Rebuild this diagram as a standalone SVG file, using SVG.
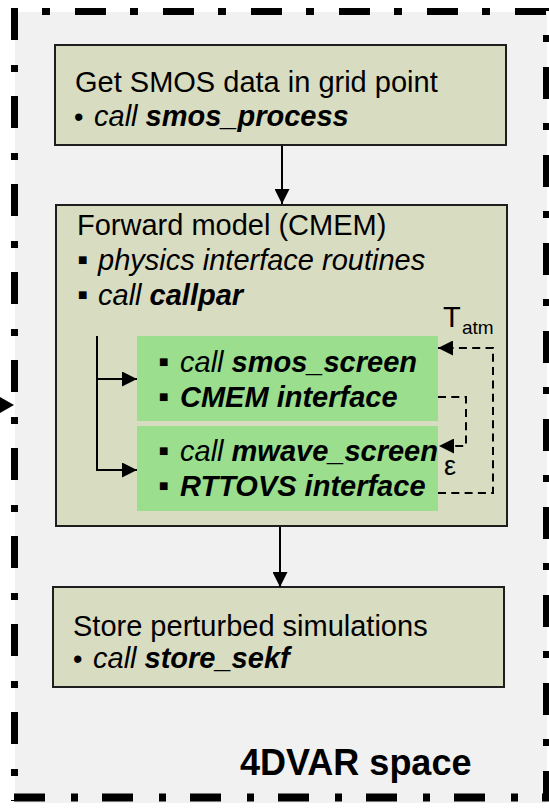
<svg xmlns="http://www.w3.org/2000/svg" width="549" height="808" viewBox="0 0 549 808">
<style>
text{font-family:"Liberation Sans",Arial,sans-serif;fill:#000}
.t{font-size:29px}
.i{font-style:italic}
.b{font-weight:bold}
.bul{font-size:31px}
.dot{font-size:27px}
.box{fill:#d8dcc1;stroke:#1e1e1e;stroke-width:2}
.green{fill:#9ade8e}
.brd{stroke:#000;fill:none}
.sol{stroke:#000;stroke-width:2;fill:none}
.dsh{stroke:#000;stroke-width:2;fill:none;stroke-dasharray:8 5.3}
</style>
<defs>
<marker id="ah" viewBox="0 0 15 15" refX="15" refY="7.5" markerWidth="15" markerHeight="15" markerUnits="userSpaceOnUse" orient="auto"><path d="M0,0 L15,7.5 L0,15 z" fill="#000"/></marker>
</defs>
<rect width="549" height="808" fill="#fff"/>
<g id="container">
<rect x="15" y="12" width="532" height="791" fill="#f1f1f1"/>
<line class="brd" x1="11" y1="11.5" x2="549" y2="11.5" stroke-width="7" stroke-dasharray="31 24 8 25" stroke-dashoffset="24"/>
<line class="brd" x1="14.5" y1="8" x2="14.5" y2="801" stroke-width="7" stroke-dasharray="32 25 7 24"/>
<line class="brd" x1="546.5" y1="8" x2="546.5" y2="801" stroke-width="7" stroke-dasharray="32 24 7 25" stroke-dashoffset="29"/>
<line class="brd" x1="14" y1="797.5" x2="549" y2="797.5" stroke-width="8" stroke-dasharray="31 26 7 24"/>
<text class="b" x="240" y="775" font-size="36">4DVAR space</text>
</g>
<g id="box1">
<rect class="box" x="55" y="45" width="451" height="100"/>
<text class="t" x="75" y="92">Get SMOS data in grid point</text>
<text class="t" y="126"><tspan class="dot" x="74">•</tspan><tspan class="i" x="94">call </tspan><tspan class="i b">smos_process</tspan></text>
</g>
<g id="box2">
<rect class="box" x="56" y="205" width="451" height="321"/>
<text class="t" x="77" y="235">Forward model (CMEM)</text>
<text class="t" y="270"><tspan class="bul" x="77">▪</tspan><tspan class="i" x="98">physics interface routines</tspan></text>
<text class="t" y="305"><tspan class="bul" x="77">▪</tspan><tspan class="i" x="98">call </tspan><tspan class="i b">callpar</tspan></text>
</g>
<g id="smos_screen">
<rect class="green" x="137" y="336" width="301" height="85"/>
<text class="t" y="372"><tspan class="bul" x="158">▪</tspan><tspan class="i" x="180">call </tspan><tspan class="i b">smos_screen</tspan></text>
<text class="t" y="407"><tspan class="bul" x="158">▪</tspan><tspan class="i b" x="180">CMEM interface</tspan></text>
</g>
<g id="mwave_screen">
<rect class="green" x="137" y="426" width="301" height="85"/>
<text class="t" y="461"><tspan class="bul" x="158">▪</tspan><tspan class="i" x="180">call </tspan><tspan class="i b">mwave_screen</tspan></text>
<text class="t" y="496"><tspan class="bul" x="158">▪</tspan><tspan class="i b" x="180">RTTOVS interface</tspan></text>
</g>
<g id="box3">
<rect class="box" x="53" y="587" width="451" height="100"/>
<text class="t" x="73" y="636">Store perturbed simulations</text>
<text class="t" y="668"><tspan class="dot" x="73">•</tspan><tspan class="i" x="93">call </tspan><tspan class="i b">store_sekf</tspan></text>
</g>
<g id="connectors">
<polygon points="0,397 14,405 0,413" fill="#000"/>
<line class="sol" x1="282" y1="146" x2="282" y2="204" marker-end="url(#ah)"/>
<line class="sol" x1="280" y1="527" x2="280" y2="587" marker-end="url(#ah)"/>
<path class="sol" d="M97,336 V470"/>
<line class="sol" x1="96" y1="379" x2="137" y2="379" marker-end="url(#ah)"/>
<line class="sol" x1="96" y1="470" x2="137" y2="470" marker-end="url(#ah)"/>
<path class="dsh" d="M438,493 H493 V348 H438" marker-end="url(#ah)"/>
<path class="dsh" d="M438,397 H466 V446 H439" marker-end="url(#ah)"/>
<text x="443" y="327" font-size="29">T</text>
<text x="462" y="334" font-size="19">atm</text>
<text x="444" y="475" font-size="27">ε</text>
</g>
</svg>
